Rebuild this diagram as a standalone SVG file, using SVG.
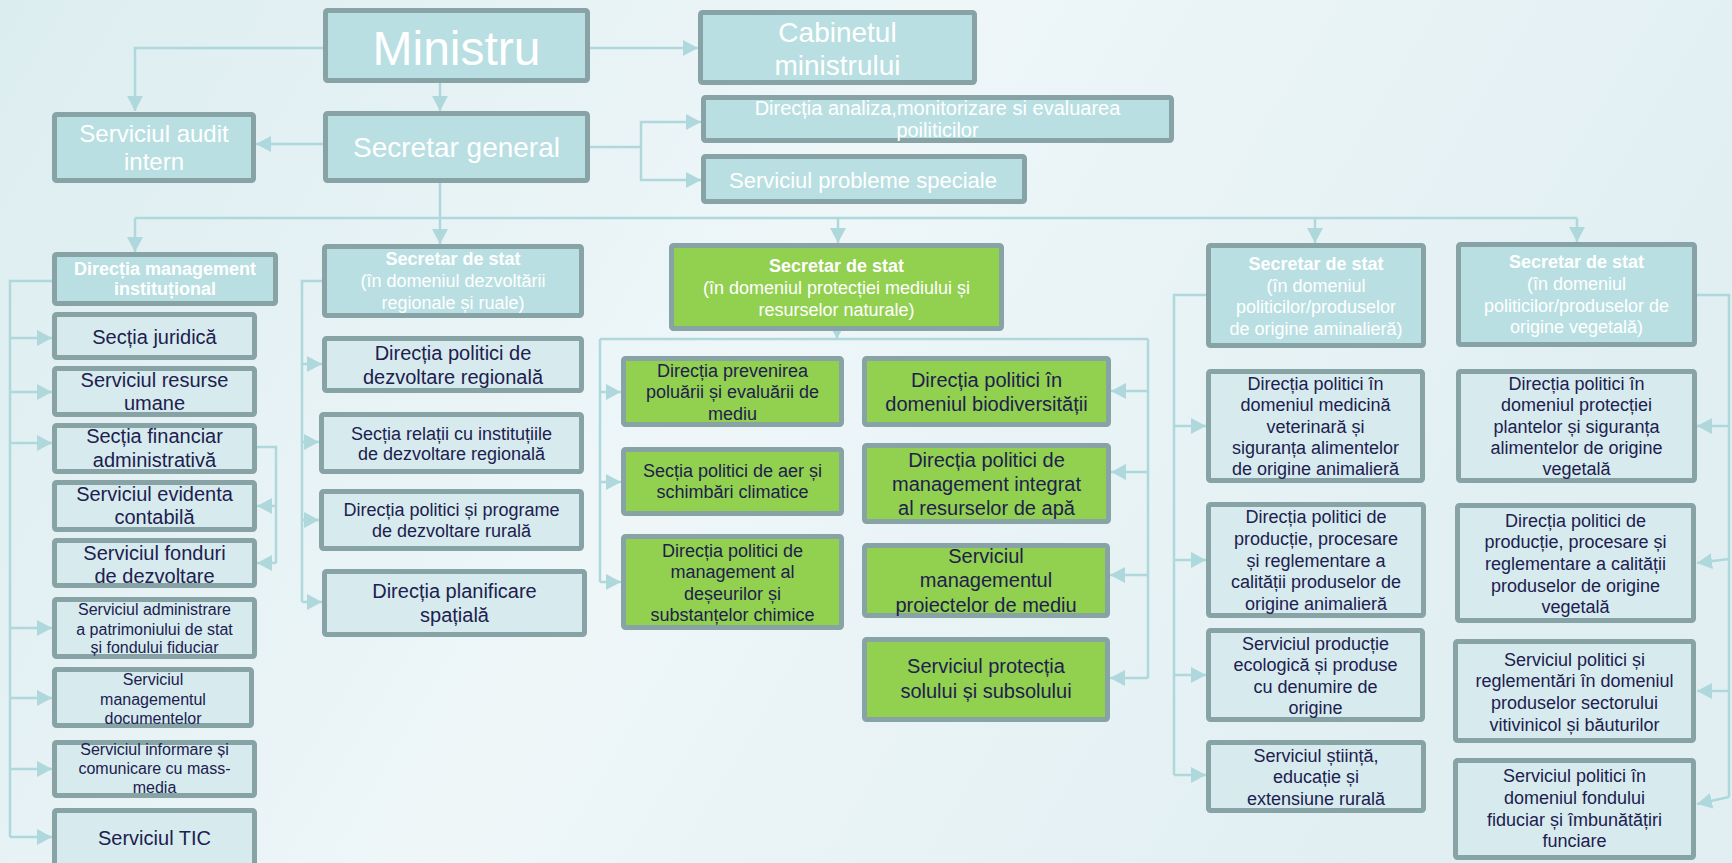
<svg xmlns="http://www.w3.org/2000/svg" width="1732" height="863" viewBox="0 0 1732 863">
<defs>
<linearGradient id="bg" x1="0" y1="0" x2="1" y2="0.3">
<stop offset="0" stop-color="#dcedf0"/>
<stop offset="0.5" stop-color="#eef6f8"/>
<stop offset="1" stop-color="#e1eff2"/>
</linearGradient>
<marker id="ah" viewBox="0 0 15 16" markerWidth="15" markerHeight="16" refX="15" refY="8" orient="auto" markerUnits="userSpaceOnUse">
<path d="M0,0 L15,8 L0,16 z" fill="#aed8dc"/>
</marker>
<style>
.top rect{fill:#b9dfe2;stroke:#88a3a5;stroke-width:5}
.sub rect{fill:#d7ebee;stroke:#88a3a5;stroke-width:5}
.grn rect{fill:#92d050;stroke:#88a3a5;stroke-width:5}
text{font-family:"Liberation Sans",Arial,sans-serif;text-anchor:middle}
.w{fill:#ffffff}
.d{fill:#20204e}
.b{font-weight:bold}
.conn path{fill:none;stroke:#aed8dc;stroke-width:2.5}
.conn path.a{marker-end:url(#ah)}
</style>
</defs>
<rect x="0" y="0" width="1732" height="863" fill="url(#bg)"/>

<g id="connectors" class="conn">
<path class="a" d="M323,48 H135 V111"/>
<path class="a" d="M590,48 H698"/>
<path class="a" d="M440,83 V111"/>
<path class="a" d="M323,144 H256"/>
<path d="M590,147 H641"/>
<path class="a" d="M641,147 V122 H701"/>
<path class="a" d="M641,147 V180 H701"/>
<path d="M440,183 V218"/>
<path d="M135,218 H1577"/>
<path class="a" d="M135,218 V252"/>
<path class="a" d="M440,218 V244"/>
<path class="a" d="M838,218 V243"/>
<path class="a" d="M1315,218 V243"/>
<path class="a" d="M1577,218 V242"/>
<!-- left column -->
<path d="M52,281 H10 V837"/>
<path class="a" d="M10,338 H52"/>
<path class="a" d="M10,392 H52"/>
<path class="a" d="M10,443 H52"/>
<path class="a" d="M10,628 H52"/>
<path class="a" d="M10,698 H52"/>
<path class="a" d="M10,769 H52"/>
<path class="a" d="M10,837 H52"/>
<path d="M257,447 H276 V563"/>
<path class="a" d="M276,506 H257"/>
<path class="a" d="M276,563 H257"/>
<!-- regional column -->
<path d="M322,281 H302 V602"/>
<path class="a" d="M302,364 H322"/>
<path class="a" d="M302,442 H319"/>
<path class="a" d="M302,520 H319"/>
<path class="a" d="M302,602 H322"/>
<!-- green -->
<path class="a" d="M837,322 V339"/>
<path d="M600,339 H1148"/>
<path d="M600,339 V582"/>
<path class="a" d="M600,392 H621"/>
<path class="a" d="M600,482 H621"/>
<path class="a" d="M600,582 H621"/>
<path d="M1148,339 V678"/>
<path class="a" d="M1148,391 H1111"/>
<path class="a" d="M1148,472 H1111"/>
<path class="a" d="M1148,575 H1110"/>
<path class="a" d="M1148,678 H1110"/>
<!-- animal -->
<path d="M1206,295 H1174 V775"/>
<path class="a" d="M1174,426 H1206"/>
<path class="a" d="M1174,560 H1206"/>
<path class="a" d="M1174,675 H1206"/>
<path class="a" d="M1174,775 H1206"/>
<!-- vegetal -->
<path d="M1697,295 H1729 V797"/>
<path class="a" d="M1729,426 H1697"/>
<path class="a" d="M1729,559 L1697,563"/>
<path class="a" d="M1729,691 H1697"/>
<path class="a" d="M1729,797 L1697,804"/>
</g>

<g id="ministru" class="top"><rect x="325.5" y="10.5" width="262" height="70" rx="2"/>
<text class="w" x="456.5" y="65" font-size="48">Ministru</text></g>
<g id="cabinet" class="top"><rect x="700.5" y="12.5" width="274" height="70" rx="2"/>
<text class="w" x="837.5" y="42" font-size="28">Cabinetul</text>
<text class="w" x="837.5" y="75" font-size="28">ministrului</text></g>
<g id="audit" class="top"><rect x="54.5" y="114.5" width="199" height="66" rx="2"/>
<text class="w" x="154" y="142" font-size="24">Serviciul audit</text>
<text class="w" x="154" y="170" font-size="24">intern</text></g>
<g id="secretar-general" class="top"><rect x="325.5" y="113.5" width="262" height="67" rx="2"/>
<text class="w" x="456.5" y="157" font-size="28">Secretar general</text></g>
<g id="directia-analiza" class="top"><rect x="703.5" y="97.5" width="468" height="43" rx="2"/>
<text class="w" x="937.5" y="115" font-size="20">Direcția analiza,monitorizare si evaluarea</text>
<text class="w" x="937.5" y="137" font-size="20">poiliticilor</text></g>
<g id="probleme-speciale" class="top"><rect x="703.5" y="156.5" width="321" height="45" rx="2"/>
<text class="w" x="863" y="188" font-size="22">Serviciul probleme speciale</text></g>

<g id="directia-management" class="top"><rect x="54.5" y="254.5" width="221" height="49" rx="2"/>
<text class="w b" x="165" y="275" font-size="18">Direcția management</text>
<text class="w b" x="165" y="295" font-size="18">instituțional</text></g>
<g id="ss-regional" class="top"><rect x="324.5" y="246.5" width="257" height="69" rx="2"/>
<text class="w b" x="453" y="265" font-size="18">Secretar de stat</text>
<text class="w" x="453" y="287" font-size="18">(în domeniul dezvoltării</text>
<text class="w" x="453" y="309" font-size="18">regionale și ruale)</text></g>
<g id="ss-mediu" class="grn"><rect x="671.5" y="245.5" width="330" height="83" rx="2"/>
<text class="w b" x="836.5" y="272" font-size="18">Secretar de stat</text>
<text class="w" x="836.5" y="294" font-size="18">(în domeniul protecției mediului și</text>
<text class="w" x="836.5" y="316" font-size="18">resurselor naturale)</text></g>
<g id="ss-animal" class="top"><rect x="1208.5" y="245.5" width="215" height="100" rx="2"/>
<text class="w b" x="1316" y="270" font-size="18">Secretar de stat</text>
<text class="w" x="1316" y="292" font-size="18">(în domeniul</text>
<text class="w" x="1316" y="313" font-size="18">politicilor/produselor</text>
<text class="w" x="1316" y="335" font-size="18">de origine aminalieră)</text></g>
<g id="ss-vegetal" class="top"><rect x="1458.5" y="244.5" width="236" height="100" rx="2"/>
<text class="w b" x="1576.5" y="268" font-size="18">Secretar de stat</text>
<text class="w" x="1576.5" y="290" font-size="18">(în domeniul</text>
<text class="w" x="1576.5" y="312" font-size="18">politicilor/produselor de</text>
<text class="w" x="1576.5" y="333" font-size="18">origine vegetală)</text></g>

<g id="sectia-juridica" class="sub"><rect x="54.5" y="314.5" width="200" height="43" rx="2"/>
<text class="d" x="154.5" y="344" font-size="20">Secția juridică</text></g>
<g id="resurse-umane" class="sub"><rect x="54.5" y="368.5" width="200" height="46" rx="2"/>
<text class="d" x="154.5" y="387" font-size="20">Serviciul resurse</text>
<text class="d" x="154.5" y="410" font-size="20">umane</text></g>
<g id="financiar" class="sub"><rect x="54.5" y="425.5" width="200" height="46" rx="2"/>
<text class="d" x="154.5" y="443" font-size="20">Secția financiar</text>
<text class="d" x="154.5" y="467" font-size="20">administrativă</text></g>
<g id="evidenta" class="sub"><rect x="54.5" y="482.5" width="200" height="47" rx="2"/>
<text class="d" x="154.5" y="501" font-size="20">Serviciul evidenta</text>
<text class="d" x="154.5" y="524" font-size="20">contabilă</text></g>
<g id="fonduri" class="sub"><rect x="54.5" y="540.5" width="200" height="45" rx="2"/>
<text class="d" x="154.5" y="560" font-size="20">Serviciul fonduri</text>
<text class="d" x="154.5" y="583" font-size="20">de dezvoltare</text></g>
<g id="administrare" class="sub"><rect x="54.5" y="599.5" width="200" height="57" rx="2"/>
<text class="d" x="154.5" y="615" font-size="16">Serviciul administrare</text>
<text class="d" x="154.5" y="635" font-size="16">a patrimoniului de stat</text>
<text class="d" x="154.5" y="653" font-size="16">și fondului fiduciar</text></g>
<g id="documente" class="sub"><rect x="54.5" y="669.5" width="197" height="56" rx="2"/>
<text class="d" x="153" y="685" font-size="16">Serviciul</text>
<text class="d" x="153" y="705" font-size="16">managementul</text>
<text class="d" x="153" y="724" font-size="16">documentelor</text></g>
<g id="informare" class="sub"><rect x="54.5" y="742.5" width="200" height="53" rx="2"/>
<text class="d" x="154.5" y="755" font-size="16">Serviciul informare și</text>
<text class="d" x="154.5" y="774" font-size="16">comunicare cu mass-</text>
<text class="d" x="154.5" y="793" font-size="16">media</text></g>
<g id="tic" class="sub"><rect x="54.5" y="810.5" width="200" height="60" rx="2"/>
<text class="d" x="154.5" y="845" font-size="20">Serviciul TIC</text></g>

<g id="politici-regionala" class="sub"><rect x="324.5" y="338.5" width="257" height="52" rx="2"/>
<text class="d" x="453" y="360" font-size="20">Direcția politici de</text>
<text class="d" x="453" y="384" font-size="20">dezvoltare regională</text></g>
<g id="relatii-institutii" class="sub"><rect x="321.5" y="414.5" width="260" height="57" rx="2"/>
<text class="d" x="451.5" y="440" font-size="18">Secția relații cu instituțiile</text>
<text class="d" x="451.5" y="460" font-size="18">de dezvoltare regională</text></g>
<g id="programe-rurala" class="sub"><rect x="321.5" y="491.5" width="260" height="57" rx="2"/>
<text class="d" x="451.5" y="516" font-size="18">Direcția politici și programe</text>
<text class="d" x="451.5" y="537" font-size="18">de dezvoltare rurală</text></g>
<g id="planificare" class="sub"><rect x="324.5" y="571.5" width="260" height="63" rx="2"/>
<text class="d" x="454.5" y="598" font-size="20">Direcția planificare</text>
<text class="d" x="454.5" y="622" font-size="20">spațială</text></g>

<g id="prevenirea" class="grn"><rect x="623.5" y="358.5" width="218" height="66" rx="2"/>
<text class="d" x="732.5" y="377" font-size="18">Direcția prevenirea</text>
<text class="d" x="732.5" y="398" font-size="18">poluării și evaluării de</text>
<text class="d" x="732.5" y="420" font-size="18">mediu</text></g>
<g id="aer" class="grn"><rect x="623.5" y="449.5" width="218" height="64" rx="2"/>
<text class="d" x="732.5" y="477" font-size="18">Secția politici de aer și</text>
<text class="d" x="732.5" y="498" font-size="18">schimbări climatice</text></g>
<g id="deseuri" class="grn"><rect x="623.5" y="536.5" width="218" height="91" rx="2"/>
<text class="d" x="732.5" y="557" font-size="18">Direcția politici de</text>
<text class="d" x="732.5" y="578" font-size="18">management al</text>
<text class="d" x="732.5" y="600" font-size="18">deșeurilor și</text>
<text class="d" x="732.5" y="621" font-size="18">substanțelor chimice</text></g>
<g id="biodiversitate" class="grn"><rect x="864.5" y="358.5" width="244" height="66" rx="2"/>
<text class="d" x="986.5" y="387" font-size="20">Direcția politici în</text>
<text class="d" x="986.5" y="411" font-size="20">domeniul biodiversității</text></g>
<g id="apa" class="grn"><rect x="864.5" y="445.5" width="244" height="76" rx="2"/>
<text class="d" x="986.5" y="467" font-size="20">Direcția politici de</text>
<text class="d" x="986.5" y="491" font-size="20">management integrat</text>
<text class="d" x="986.5" y="515" font-size="20">al resurselor de apă</text></g>
<g id="proiecte" class="grn"><rect x="864.5" y="545.5" width="243" height="70" rx="2"/>
<text class="d" x="986" y="563" font-size="20">Serviciul</text>
<text class="d" x="986" y="587" font-size="20">managementul</text>
<text class="d" x="986" y="612" font-size="20">proiectelor de mediu</text></g>
<g id="sol" class="grn"><rect x="864.5" y="639.5" width="243" height="80" rx="2"/>
<text class="d" x="986" y="673" font-size="20">Serviciul protecția</text>
<text class="d" x="986" y="698" font-size="20">solului și subsolului</text></g>

<g id="medicina-veterinara" class="sub"><rect x="1208.5" y="371.5" width="214" height="109" rx="2"/>
<text class="d" x="1315.5" y="390" font-size="18">Direcția politici în</text>
<text class="d" x="1315.5" y="411" font-size="18">domeniul medicină</text>
<text class="d" x="1315.5" y="433" font-size="18">veterinară și</text>
<text class="d" x="1315.5" y="454" font-size="18">siguranța alimentelor</text>
<text class="d" x="1315.5" y="475" font-size="18">de origine animalieră</text></g>
<g id="productie-animala" class="sub"><rect x="1208.5" y="504.5" width="215" height="111" rx="2"/>
<text class="d" x="1316" y="523" font-size="18">Direcția politici de</text>
<text class="d" x="1316" y="545" font-size="18">producție, procesare</text>
<text class="d" x="1316" y="567" font-size="18">și reglementare a</text>
<text class="d" x="1316" y="588" font-size="18">calității produselor de</text>
<text class="d" x="1316" y="610" font-size="18">origine animalieră</text></g>
<g id="productie-ecologica" class="sub"><rect x="1208.5" y="630.5" width="214" height="89" rx="2"/>
<text class="d" x="1315.5" y="650" font-size="18">Serviciul producție</text>
<text class="d" x="1315.5" y="671" font-size="18">ecologică și produse</text>
<text class="d" x="1315.5" y="693" font-size="18">cu denumire de</text>
<text class="d" x="1315.5" y="714" font-size="18">origine</text></g>
<g id="stiinta" class="sub"><rect x="1208.5" y="742.5" width="215" height="68" rx="2"/>
<text class="d" x="1316" y="762" font-size="18">Serviciul știință,</text>
<text class="d" x="1316" y="783" font-size="18">educație și</text>
<text class="d" x="1316" y="805" font-size="18">extensiune rurală</text></g>

<g id="protectia-plantelor" class="sub"><rect x="1458.5" y="371.5" width="236" height="109" rx="2"/>
<text class="d" x="1576.5" y="390" font-size="18">Direcția politici în</text>
<text class="d" x="1576.5" y="411" font-size="18">domeniul protecției</text>
<text class="d" x="1576.5" y="433" font-size="18">plantelor și siguranța</text>
<text class="d" x="1576.5" y="454" font-size="18">alimentelor de origine</text>
<text class="d" x="1576.5" y="475" font-size="18">vegetală</text></g>
<g id="productie-vegetala" class="sub"><rect x="1457.5" y="505.5" width="236" height="115" rx="2"/>
<text class="d" x="1575.5" y="527" font-size="18">Direcția politici de</text>
<text class="d" x="1575.5" y="548" font-size="18">producție, procesare și</text>
<text class="d" x="1575.5" y="570" font-size="18">reglementare a calității</text>
<text class="d" x="1575.5" y="592" font-size="18">produselor de origine</text>
<text class="d" x="1575.5" y="613" font-size="18">vegetală</text></g>
<g id="vitivinicol" class="sub"><rect x="1455.5" y="641.5" width="238" height="99" rx="2"/>
<text class="d" x="1574.5" y="666" font-size="18">Serviciul politici și</text>
<text class="d" x="1574.5" y="687" font-size="18">reglementări în domeniul</text>
<text class="d" x="1574.5" y="709" font-size="18">produselor sectorului</text>
<text class="d" x="1574.5" y="731" font-size="18">vitivinicol și băuturilor</text></g>
<g id="fond-fiduciar" class="sub"><rect x="1455.5" y="760.5" width="238" height="97" rx="2"/>
<text class="d" x="1574.5" y="782" font-size="18">Serviciul politici în</text>
<text class="d" x="1574.5" y="804" font-size="18">domeniul fondului</text>
<text class="d" x="1574.5" y="826" font-size="18">fiduciar și îmbunătățiri</text>
<text class="d" x="1574.5" y="847" font-size="18">funciare</text></g>
</svg>
